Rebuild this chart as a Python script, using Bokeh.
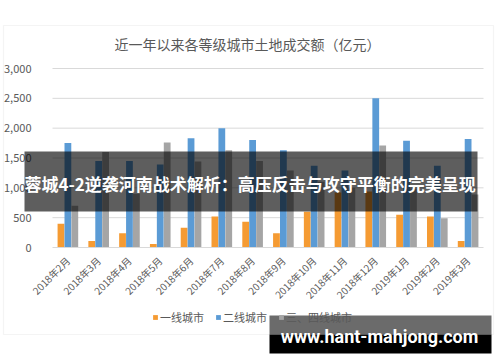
import math
from bokeh.plotting import figure
from bokeh.models import (ColumnDataSource, Label, BoxAnnotation, Legend, LegendItem,
                          NumeralTickFormatter, FixedTicker, Range1d, LinearAxis)
from bokeh.embed import file_html
from bokeh.resources import INLINE

months = ["2018年2月", "2018年3月", "2018年4月", "2018年5月", "2018年6月", "2018年7月",
          "2018年8月", "2018年9月", "2018年10月", "2018年11月", "2018年12月",
          "2019年1月", "2019年2月", "2019年3月"]
tier1 = [400, 110, 240, 60, 330, 520, 430, 240, 600, 920, 940, 550, 520, 110]
tier2 = [1750, 1450, 1450, 1390, 1830, 2000, 1800, 1630, 1370, 1290, 2500, 1790, 1370, 1820]
tier3 = [700, 1600, 900, 1760, 1440, 1630, 1450, 1290, 1100, 1000, 1710, 990, 490, 890]
series_names = ["一线城市", "二线城市", "三、四线城市"]
y_ticks = [0, 500, 1000, 1500, 2000, 2500, 3000]

title_text = "近一年以来各等级城市土地成交额（亿元）"
banner_text = "蓉城4-2逆袭河南战术解析：高压反击与攻守平衡的完美呈现"
watermark_text = "www.hant-mahjong.com"

colors = ["#F59B33", "#5B9BD5", "#A5A5A5"]
CJK = "Noto Sans CJK SC"
TXT = "#595959"
GRID = "#D9D9D9"

W, H = 500, 362
# plot area in page pixels
PL, PR, PT, PB = 52, 483, 68, 247
n = len(months)
ux = n / (PR - PL)            # x data units per pixel
uy = y_ticks[-1] / (PB - PT)  # y data units per pixel

x_range = Range1d(-PL * ux, n + (W - PR) * ux)
y_range = Range1d(-(H - PB) * uy, y_ticks[-1] + PT * uy)

p = figure(x_range=x_range, y_range=y_range, width=W, height=H, title=None,
           output_backend="svg", toolbar_location=None,
           min_border=0, x_axis_type=None, y_axis_type=None)
p.outline_line_color = None
p.background_fill_color = "white"
p.border_fill_color = "white"
p.xgrid.visible = False
p.ygrid.visible = False


def sy(page_y):
    return H - page_y

# outer chart border
p.add_layout(BoxAnnotation(left=3, right=493, bottom=sy(334), top=sy(25),
                           left_units="screen", right_units="screen",
                           top_units="screen", bottom_units="screen",
                           fill_color=None, line_color=GRID, line_width=1.2))

# gridlines from the tick list
p.segment(x0=0, x1=n, y0=y_ticks[1:], y1=y_ticks[1:], line_color=GRID, line_width=1)

centers = [i + 0.5 for i in range(n)]
source = ColumnDataSource(dict(
    month=months,
    x1=[c - 0.225 for c in centers], x2=centers, x3=[c + 0.225 for c in centers],
    t1=tier1, t2=tier2, t3=tier3))

bw = 0.22
renderers = []
for xc, col, c in zip(["x1", "x2", "x3"], ["t1", "t2", "t3"], colors):
    r = p.vbar(x=xc, top=col, width=bw, source=source, fill_color=c, line_color=None)
    renderers.append(r)

# y axis
yaxis = LinearAxis(fixed_location=0, bounds=(0, y_ticks[-1]))
yaxis.ticker = FixedTicker(ticks=y_ticks)
yaxis.formatter = NumeralTickFormatter(format="0,0")
yaxis.axis_line_color = None
yaxis.major_tick_line_color = None
yaxis.minor_tick_line_color = None
yaxis.major_label_text_font = CJK
yaxis.major_label_text_font_size = "11px"
yaxis.major_label_text_color = TXT
yaxis.major_label_standoff = 15
p.add_layout(yaxis, "left")

# x axis
xaxis = LinearAxis(fixed_location=0, bounds=(0, n))
xaxis.ticker = FixedTicker(ticks=centers)
xaxis.major_label_overrides = {c: m for c, m in zip(centers, months)}
xaxis.axis_line_color = GRID
xaxis.major_tick_line_color = None
xaxis.minor_tick_line_color = None
xaxis.major_label_orientation = math.pi / 4
xaxis.major_label_text_font = CJK
xaxis.major_label_text_font_size = "10px"
xaxis.major_label_text_color = TXT
xaxis.major_label_standoff = 5
p.add_layout(xaxis, "below")

# legend
legend = Legend(items=[LegendItem(label=nm, renderers=[r]) for nm, r in zip(series_names, renderers)],
                location=(152, sy(325)), orientation="horizontal")
legend.label_text_font = CJK
legend.label_text_font_size = "11px"
legend.label_text_color = TXT
legend.glyph_width = 6
legend.glyph_height = 6
legend.label_height = 12
legend.label_standoff = 2
legend.spacing = 11
legend.padding = 0
legend.margin = 0
legend.border_line_color = None
legend.background_fill_alpha = 0
p.add_layout(legend)

# title
p.add_layout(Label(x=247, y=sy(43), x_units="screen", y_units="screen", text=title_text,
                   text_font=CJK, text_font_size="14px", text_color=TXT,
                   text_align="center", text_baseline="middle"))

# banner
p.add_layout(BoxAnnotation(left=24, right=477, bottom=sy(211), top=sy(151),
                           left_units="screen", right_units="screen",
                           top_units="screen", bottom_units="screen",
                           fill_color="black", fill_alpha=0.63, line_color=None))
p.add_layout(Label(x=24, y=sy(183), x_units="screen", y_units="screen", text=banner_text,
                   text_font=CJK, text_font_size="17px", text_font_style="bold",
                   text_color="white", text_align="left", text_baseline="middle"))

# watermark
p.add_layout(BoxAnnotation(left=269, right=491, bottom=sy(334), top=sy(315),
                           left_units="screen", right_units="screen",
                           top_units="screen", bottom_units="screen",
                           fill_color="black", fill_alpha=0.58, line_color=None))
p.add_layout(BoxAnnotation(left=269, right=491, bottom=sy(353), top=sy(334),
                           left_units="screen", right_units="screen",
                           top_units="screen", bottom_units="screen",
                           fill_color="black", fill_alpha=1.0, line_color=None))
p.add_layout(Label(x=379, y=sy(335.5), x_units="screen", y_units="screen", text=watermark_text,
                   text_font="Roboto", text_font_size="18px", text_font_style="bold",
                   text_color="white", text_align="center", text_baseline="middle"))

open("out.html", "w").write(file_html(p, INLINE))
